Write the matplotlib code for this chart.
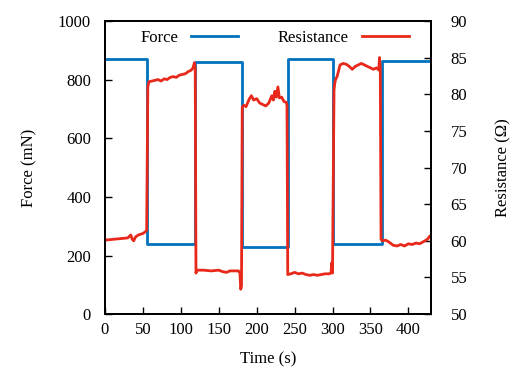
import matplotlib
matplotlib.use('Agg')
import matplotlib.pyplot as plt

plt.rcParams['font.family'] = ['Liberation Serif', 'DejaVu Serif']
plt.rcParams['font.size'] = 12

# force steps (time in s, force in mN)
force_t = [0, 55, 119, 181, 241, 301, 365, 430]
force_v = [870, 240, 860, 230, 870, 240, 862, 862]

# resistance trace (time in s, resistance in Ohm)
res_t = [0, 10, 20, 30, 34, 36, 38, 40, 44, 50, 54, 55,
         56.5, 58, 62, 66, 70, 74, 78, 82, 86, 90, 94, 98, 102, 106, 110, 114, 116, 118, 119,
         120, 121, 130, 140, 150, 155, 160, 165, 170, 176, 178, 179, 180,
         181, 183, 186, 190, 193, 196, 200, 204, 208, 212, 216, 220, 222, 224, 226, 228,
         230, 233, 236, 239, 240,
         241, 245, 250, 255, 260, 265, 270, 275, 280, 285, 290, 295, 298, 299, 300,
         302, 303, 304, 306, 310, 314, 318, 322, 326, 330, 334, 338, 342, 346, 350, 354,
         358, 361, 362, 363,
         364, 366, 370, 375, 380, 385, 390, 395, 400, 405, 410, 415, 420, 425, 428]
res_v = [60.1, 60.2, 60.3, 60.4, 60.8, 60.2, 60.0, 60.5, 60.8, 61.0, 61.3, 61.5,
         81.0, 81.7, 81.8, 81.9, 82.0, 81.8, 82.1, 82.0, 82.3, 82.4, 82.3, 82.6, 82.7, 82.8, 83.1, 83.3, 83.6, 84.3, 83.5,
         55.6, 56.0, 56.0, 55.9, 56.0, 55.8, 55.7, 55.9, 55.9, 55.9, 55.6, 53.4, 53.8,
         78.2, 78.5, 78.3, 79.3, 79.8, 79.2, 79.4, 78.8, 78.6, 78.4, 78.8, 79.8, 79.2, 80.4, 79.6, 81.0,
         79.5, 79.6, 79.0, 78.9, 78.5,
         55.4, 55.5, 55.7, 55.5, 55.6, 55.4, 55.3, 55.4, 55.3, 55.4, 55.5, 55.5, 55.6, 57.0, 55.6,
         80.6, 81.5, 82.0, 82.4, 84.0, 84.2, 84.1, 83.8, 83.4, 83.8, 84.0, 84.2, 84.0, 83.8, 83.6, 83.4,
         83.6, 83.3, 85.0, 83.6,
         60.2, 60.0, 60.1, 59.8, 59.4, 59.3, 59.5, 59.3, 59.6, 59.5, 59.7, 59.6, 59.9, 60.2, 60.6]

blue = '#0072bd'
red = '#e8281a'

fig = plt.figure(figsize=(5.12, 3.67), dpi=100)
ax = fig.add_axes([0.205, 0.144, 0.637, 0.799])
ax2 = ax.twinx()

l1, = ax.plot(force_t, force_v, drawstyle='steps-post', color=blue, lw=2, label='Force')
l2, = ax2.plot(res_t, res_v, color=red, lw=2, label='Resistance')

ax.set_xlim(0, 430)
ax.set_ylim(0, 1000)
ax2.set_ylim(50, 90)
ax.set_xticks(range(0, 401, 50))
ax.set_yticks(range(0, 1001, 200))
ax2.set_yticks(range(50, 91, 5))

ax.tick_params(direction='in', length=5, width=1)
ax2.tick_params(direction='in', length=5, width=1, pad=14)
ax.tick_params(axis='x', pad=6)
ax.tick_params(axis='y', pad=10)
for a in (ax, ax2):
    for s in a.spines.values():
        s.set_linewidth(1.3)

ax.set_xlabel('Time (s)', labelpad=9)
ax.set_ylabel('Force (mN)', labelpad=15)
ax2.set_ylabel('Resistance (Ω)', labelpad=20)

ax.legend(handles=[l1, l2], loc='upper center', ncol=2, frameon=False,
          markerfirst=False, handlelength=2.8, columnspacing=2.4,
          bbox_to_anchor=(0.52, 1.02))

fig.savefig('out.png', dpi=100)
